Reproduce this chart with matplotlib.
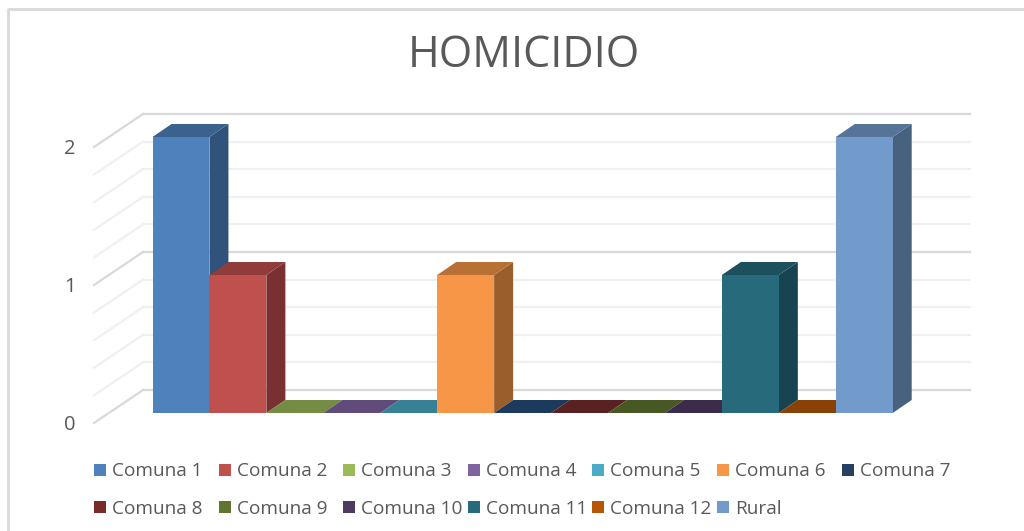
import matplotlib
matplotlib.use("Agg")
import matplotlib.pyplot as plt
from matplotlib.patches import Polygon, Rectangle
from matplotlib.lines import Line2D

categories = ['Comuna 1', 'Comuna 2', 'Comuna 3', 'Comuna 4', 'Comuna 5', 'Comuna 6', 'Comuna 7',
              'Comuna 8', 'Comuna 9', 'Comuna 10', 'Comuna 11', 'Comuna 12', 'Rural']
values = [2, 1, 0, 0, 0, 1, 0, 0, 0, 0, 1, 0, 2]
front_colors = ['#4F81BD', '#C0504D', '#9BBB59', '#8064A2', '#4BACC6', '#F79646', '#254061',
                '#772C2A', '#5F7530', '#4D3B62', '#276A7C', '#B65708', '#729ACA']
top_colors = ['#3B618E', '#903C3A', '#748C43', '#604B7A', '#388195', '#B97035', '#1C3A5C',
              '#592120', '#475824', '#3A2C4A', '#1D505D', '#894106', '#567498']
side_colors = ['#31527A', '#7A3030', '#5F7530', '#4D3B62', '#2E6C7D', '#9A5E2C', '#172839',
               '#4A1B1A', '#3B491E', '#30253D', '#184350', '#723605', '#48617F']
y_ticks = [0, 1, 2]
minor_ticks = [0, 0.2, 0.4, 0.6, 0.8, 1, 1.2, 1.4, 1.6, 1.8, 2]
title = 'HOMICIDIO'

W, H = 1024, 531
FONT = 'Open Sans'
TEXT = '#595959'

fig = plt.figure(figsize=(W / 100, H / 100), dpi=100, facecolor='white')

# axes: one unit in x is one category, one unit in y is one count
left, right, base, top = 152.5, 892.7, 413.0, 137.0
ax = fig.add_axes([left / W, 1 - base / H, (right - left) / W, (base - top) / H])
ax.set_xlim(0, len(categories))
ax.set_ylim(0, 2)
ax.axis('off')

ux = (right - left) / len(categories)
uy = (base - top) / 2
# depth of the bars, and of the floor in front of / behind them
dx, dy = 19 / ux, 13 / uy
back_x, back_y = (143 - left) / ux, 23 / uy
front_x, front_y = (94 - left) / ux, -10 / uy
wall_end = (970 - left) / ux

# gridlines: wall lines and the slanted floor/side lines
for t in minor_ticks:
    major = t in y_ticks
    color = '#D9D9D9' if major else '#F0F0F0'
    ax.add_line(Line2D([back_x, wall_end], [t + back_y, t + back_y], color=color, lw=1.6,
                       clip_on=False, zorder=1))
    ax.add_line(Line2D([front_x, back_x], [t + front_y, t + back_y], color=color, lw=1.6,
                       clip_on=False, zorder=1))

# left to right, so each front face covers the side of the bar before it
for i, v in enumerate(values):
    z = 2 + i
    x0, x1 = i, i + 1
    if v > 0:
        ax.add_patch(Polygon([(x1, 0), (x1 + dx, dy), (x1 + dx, v + dy), (x1, v)],
                             fc=side_colors[i], ec='none', clip_on=False, zorder=z))
    ax.add_patch(Polygon([(x0, v), (x0 + dx, v + dy), (x1 + dx, v + dy), (x1, v)],
                         fc=top_colors[i], ec='none', clip_on=False, zorder=z))
    if v > 0:
        ax.add_patch(Rectangle((x0, 0), 1, v, fc=front_colors[i], ec='none',
                               clip_on=False, zorder=z + 0.5))

for t in y_ticks:
    ax.text((70 - left) / ux, t + front_y - 2 / uy, str(t), fontsize=14.5, color=TEXT, family=FONT,
            ha='center', va='center', clip_on=False)

fig.text(524 / W, 1 - 56 / H, title, fontsize=31, color=TEXT, family=FONT, ha='center', va='center')

# legend: fixed column pitch, two rows
n_cols = 7
for i, name in enumerate(categories):
    row, col = divmod(i, n_cols)
    lx = 94 + col * 124.6
    ly = 470 + row * 37
    fig.add_artist(Rectangle((lx / W, 1 - (ly + 6) / H), 12 / W, 12 / H, fc=front_colors[i], ec='none',
                             transform=fig.transFigure))
    fig.text((lx + 18) / W, 1 - (ly + 1.5) / H, name, fontsize=13.7, color=TEXT, family=FONT, ha='left', va='center')

# chart frame, only top and left show in the crop
fig.add_artist(Line2D([8 / W, 8 / W, 1], [0, 1 - 9 / H, 1 - 9 / H], color='#D9D9D9', lw=2,
                      transform=fig.transFigure))

fig.savefig('out.png', dpi=100)
